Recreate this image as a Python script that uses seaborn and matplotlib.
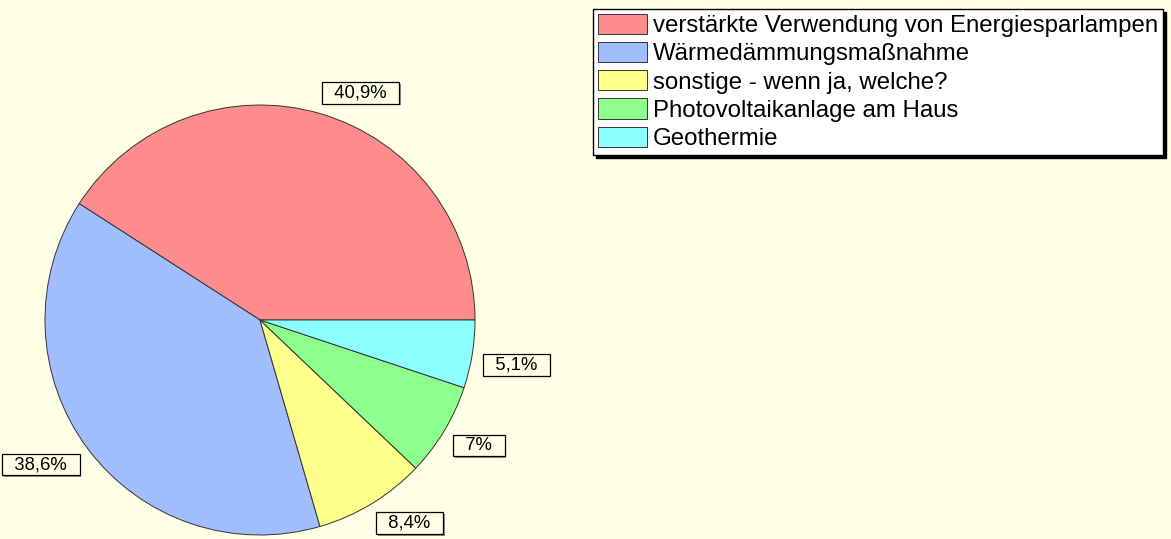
import matplotlib
matplotlib.use("Agg")
import matplotlib.pyplot as plt
import matplotlib.patheffects as pe
import seaborn as sns

categories = [
    "verstärkte Verwendung von Energiesparlampen",
    "Wärmedämmungsmaßnahme",
    "sonstige - wenn ja, welche?",
    "Photovoltaikanlage am Haus",
    "Geothermie",
]
values = [40.9, 38.6, 8.4, 7.0, 5.1]
value_labels = ["40,9%", "38,6%", "8,4%", "7%", "5,1%"]
colors = ["#FF8C8C", "#A0BEFF", "#FFFF8C", "#8CFF8C", "#8CFFFF"]

sns.set_theme(style="white")
plt.rcParams["font.family"] = ["Liberation Sans", "DejaVu Sans"]
plt.rcParams["text.color"] = "black"

bg = "#FFFFE6"
W, H = 1171, 539
fig = plt.figure(figsize=(W / 100, H / 100), dpi=100)
fig.patch.set_facecolor(bg)

cx, cy, r = 260, 320, 215
ax = fig.add_axes([(cx - r) / W, (H - cy - r) / H, 2 * r / W, 2 * r / H])
ax.set_facecolor(bg)

wedges, texts = ax.pie(
    values,
    labels=["  " + s + "  " for s in value_labels],
    colors=colors,
    startangle=0,
    counterclock=True,
    radius=1.0,
    labeldistance=1.06,
    wedgeprops=dict(edgecolor="#333333", linewidth=0.7),
    textprops=dict(fontsize=13.3, color="black"),
)
for t in texts:
    x, y = t.get_position()
    t.set_ha("left" if x > 0 else "right")
    t.set_va("bottom" if y > 0 else "top")
    t.set_bbox(dict(boxstyle="square,pad=0.12", facecolor="#FFFFE6",
                    edgecolor="black", linewidth=0.9))
    t.get_bbox_patch().set_path_effects(
        [pe.SimplePatchShadow(offset=(1.2, -1.2), shadow_rgbFace="#777777", alpha=0.8),
         pe.Normal()])
ax.set_xlim(-1, 1)
ax.set_ylim(-1, 1)
ax.set_aspect("equal")
ax.axis("off")

leg = fig.legend(
    wedges,
    categories,
    loc="upper left",
    bbox_to_anchor=(593 / W, 1 - 9 / H),
    fontsize=17.3,
    frameon=True,
    fancybox=False,
    shadow={"color": "black", "alpha": 1.0},
    handlelength=2.05,
    handleheight=0.92,
    handletextpad=0.25,
    labelspacing=0.2,
    borderpad=0.2,
    borderaxespad=0,
    labelcolor="black",
)
frame = leg.get_frame()
frame.set_facecolor("white")
frame.set_edgecolor("black")
frame.set_linewidth(1.0)
for h in leg.legend_handles:
    h.set_edgecolor("#333333")

fig.savefig("out.png", dpi=100, facecolor=bg)
